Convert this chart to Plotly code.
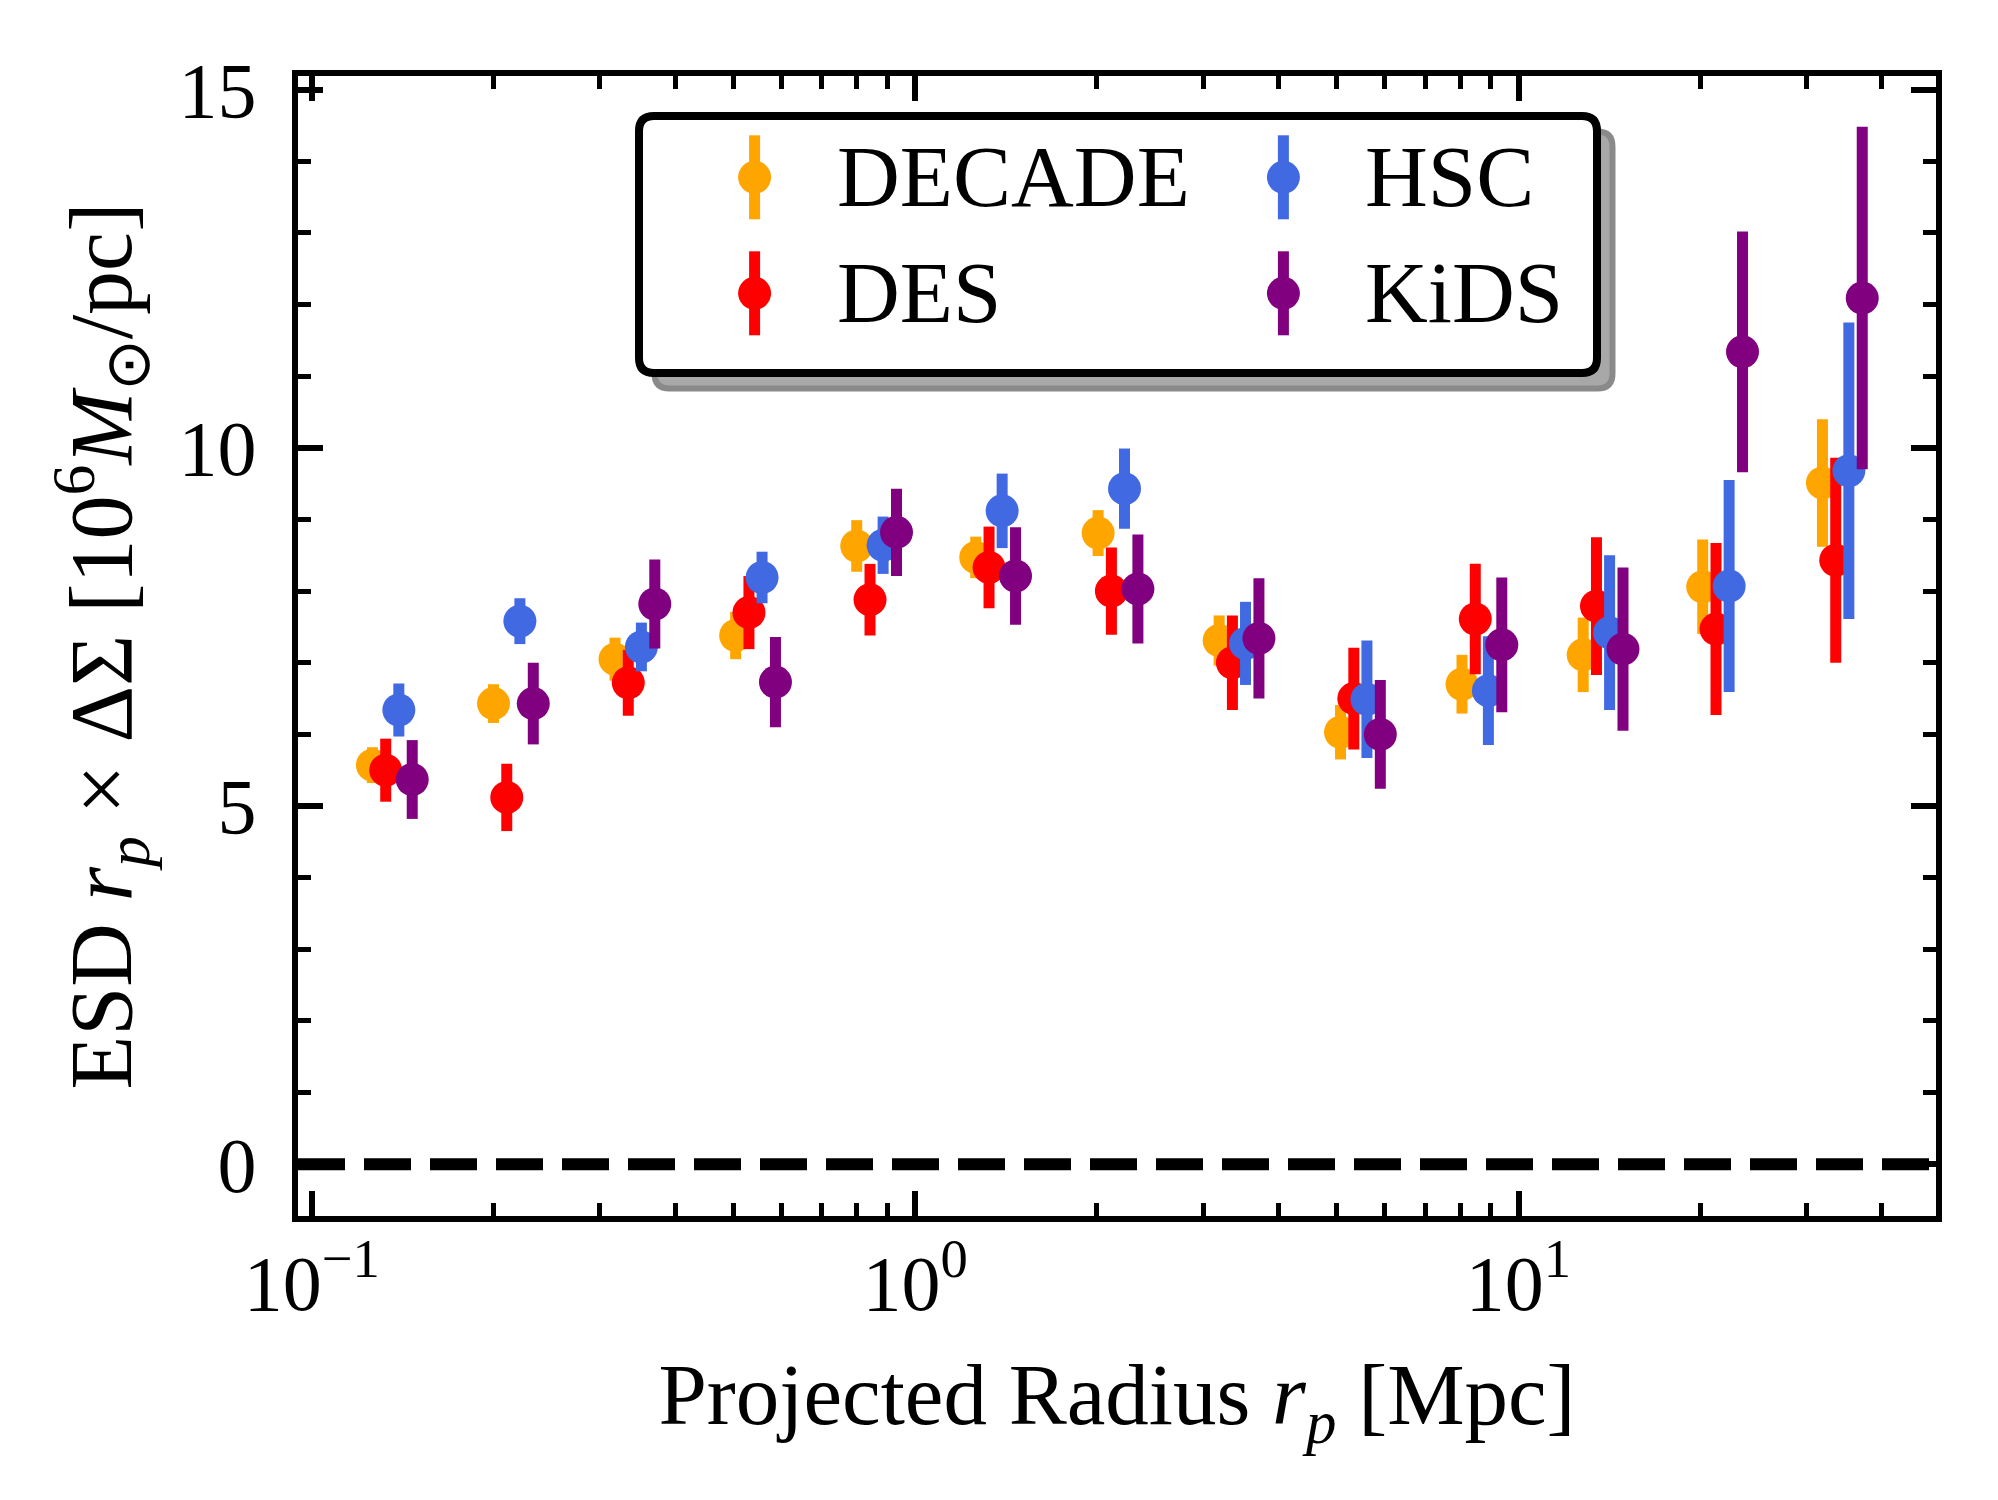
import plotly.graph_objects as go

# ---------------- data ----------------
radius_bins = [0.126, 0.200, 0.318, 0.504, 0.800, 1.26, 2.01, 3.19, 5.07, 8.06, 12.8, 20.2, 31.9]
survey_names = ["DECADE", "DES", "HSC", "KiDS"]
survey_shift = [1.0, 1.052, 1.106, 1.164]   # horizontal offsets between surveys (multiplicative)

decade_esd = [5.57, 6.43, 7.05, 7.38, 8.63, 8.47, 8.81, 7.31, 6.03, 6.70, 7.11, 8.06, 9.51]
decade_err = [0.25, 0.27, 0.30, 0.33, 0.36, 0.29, 0.32, 0.35, 0.38, 0.41, 0.52, 0.66, 0.89]
des_esd = [5.50, 5.12, 6.72, 7.70, 7.88, 8.33, 8.00, 7.00, 6.50, 7.61, 7.79, 7.47, 8.43]
des_err = [0.44, 0.47, 0.46, 0.51, 0.50, 0.57, 0.61, 0.66, 0.71, 0.77, 0.96, 1.20, 1.43]
hsc_esd = [6.34, 7.58, 7.22, 8.19, 8.64, 9.12, 9.43, 7.27, 6.49, 6.61, 7.42, 8.07, 9.68]
hsc_err = [0.37, 0.32, 0.34, 0.36, 0.40, 0.52, 0.56, 0.58, 0.82, 0.76, 1.08, 1.48, 2.07]
kids_esd = [5.37, 6.43, 7.82, 6.73, 8.82, 8.21, 8.03, 7.34, 6.00, 7.25, 7.19, 11.34, 12.09]
kids_err = [0.55, 0.57, 0.62, 0.63, 0.61, 0.68, 0.76, 0.84, 0.76, 0.94, 1.14, 1.68, 2.39]

esd_values = [decade_esd, des_esd, hsc_esd, kids_esd]
esd_errors = [decade_err, des_err, hsc_err, kids_err]
colors = ["#FFA500", "#FF0000", "#4169E1", "#800080"]

x_tick_vals = [0.1, 1, 10]
x_tick_text = ["10<sup>\u22121</sup>", "10<sup>0</sup>", "10<sup>1</sup>"]
y_tick_vals = [0, 5, 10, 15]

# ---------------- figure ----------------
W, H = 1998, 1500
PX0, PX1, PY0, PY1 = 298, 1936, 76, 1216   # plot area in pixels
FONT = "Liberation Serif"

fig = go.Figure()
for name, vals, errs, col, sh in zip(survey_names, esd_values, esd_errors, colors, survey_shift):
    fig.add_trace(go.Scatter(
        x=[r * sh for r in radius_bins], y=vals, mode="markers", name=name,
        marker=dict(color=col, size=33, line=dict(width=0)),
        error_y=dict(type="data", array=errs, visible=True, color=col, thickness=11, width=0),
        showlegend=False,
    ))

# dashed zero line
fig.add_shape(type="line", xref="paper", yref="y", x0=0, x1=1, y0=0, y1=0,
              line=dict(color="black", width=12, dash="47px,19px"), layer="below")


def px2paper(px, py):
    return (px - PX0) / (PX1 - PX0), (PY1 - py) / (PY1 - PY0)


def rounded_rect(x0, y0, x1, y1, r):
    def P(cmd, *xy):
        coords = []
        for i in range(0, len(xy), 2):
            a, b = px2paper(xy[i], xy[i + 1])
            coords.append(f"{a:.6f},{b:.6f}")
        return cmd + " " + " ".join(coords)
    pts = [
        P("M", x0 + r, y0), P("L", x1 - r, y0), P("Q", x1, y0, x1, y0 + r),
        P("L", x1, y1 - r), P("Q", x1, y1, x1 - r, y1), P("L", x0 + r, y1),
        P("Q", x0, y1, x0, y1 - r), P("L", x0, y0 + r), P("Q", x0, y0, x0 + r, y0),
    ]
    return " ".join(pts) + " Z"


# legend frame (shadow + box)
LX0, LX1, LY0, LY1 = 639, 1597, 116, 373
SH = 15.5
fig.add_shape(type="path", xref="paper", yref="paper",
              path=rounded_rect(LX0 + SH, LY0 + SH, LX1 + SH, LY1 + SH, 15),
              fillcolor="#a8a8a8", line=dict(color="#8a8a8a", width=6), layer="above")
fig.add_shape(type="path", xref="paper", yref="paper",
              path=rounded_rect(LX0, LY0, LX1, LY1, 15),
              fillcolor="white", line=dict(color="black", width=8), layer="above")

legend_pos = [(754.6, 177.3), (754.6, 293.3), (1283.4, 177.3), (1283.4, 293.3)]
for (mx, my), name, col in zip(legend_pos, survey_names, colors):
    ax, ay = px2paper(mx, my)
    fig.add_shape(type="line", xref="paper", yref="paper", xsizemode="pixel", ysizemode="pixel",
                  xanchor=ax, yanchor=ay, x0=0, x1=0, y0=-42, y1=42,
                  line=dict(color=col, width=11), layer="above")
    fig.add_shape(type="circle", xref="paper", yref="paper", xsizemode="pixel", ysizemode="pixel",
                  xanchor=ax, yanchor=ay, x0=-16.5, x1=16.5, y0=-16.5, y1=16.5,
                  fillcolor=col, line=dict(width=0), layer="above")
    tx, ty = px2paper(mx + 81, my - 1)
    fig.add_annotation(x=tx, y=ty, xref="paper", yref="paper", text=name, showarrow=False,
                       xanchor="left", yanchor="middle", borderpad=0,
                       font=dict(family=FONT, size=87, color="black"))

axis_common = dict(
    showline=True, linewidth=6, linecolor="black", mirror="allticks",
    ticks="inside", ticklen=25, tickwidth=6, tickcolor="black",
    showgrid=False, zeroline=False,
    tickfont=dict(family=FONT, size=78, color="black"),
)

fig.update_xaxes(
    type="log", range=[-1.023, 1.692], tickmode="array", tickvals=x_tick_vals, ticktext=x_tick_text,
    minor=dict(ticks="inside", ticklen=13, tickwidth=4.5, tickcolor="black", dtick="D1", showgrid=False),
    title=dict(text="Projected Radius <i>r</i><sub><i>p</i></sub> [Mpc]",
               font=dict(family=FONT, size=87, color="black"), standoff=40),
    ticklabelstandoff=-6,
    **axis_common,
)
fig.update_yaxes(
    range=[-0.723, 15.19], tickmode="array", tickvals=y_tick_vals,
    minor=dict(ticks="inside", ticklen=13, tickwidth=4.5, tickcolor="black", dtick=1, showgrid=False),
    title=dict(text="ESD <i>r</i><sub><i>p</i></sub> \u00d7 \u0394\u03a3 [10<sup>6</sup><i>M</i><sub>\u2299</sub>/pc]",
               font=dict(family=FONT, size=88, color="black"), standoff=20),
    ticklabelstandoff=20,
    **axis_common,
)

fig.update_layout(
    width=W, height=H,
    margin=dict(l=PX0, r=W - PX1, t=PY0, b=H - PY1, autoexpand=False),
    paper_bgcolor="white", plot_bgcolor="white",
    showlegend=False,
    font=dict(family=FONT, color="black"),
)

fig.write_html("out.html")
